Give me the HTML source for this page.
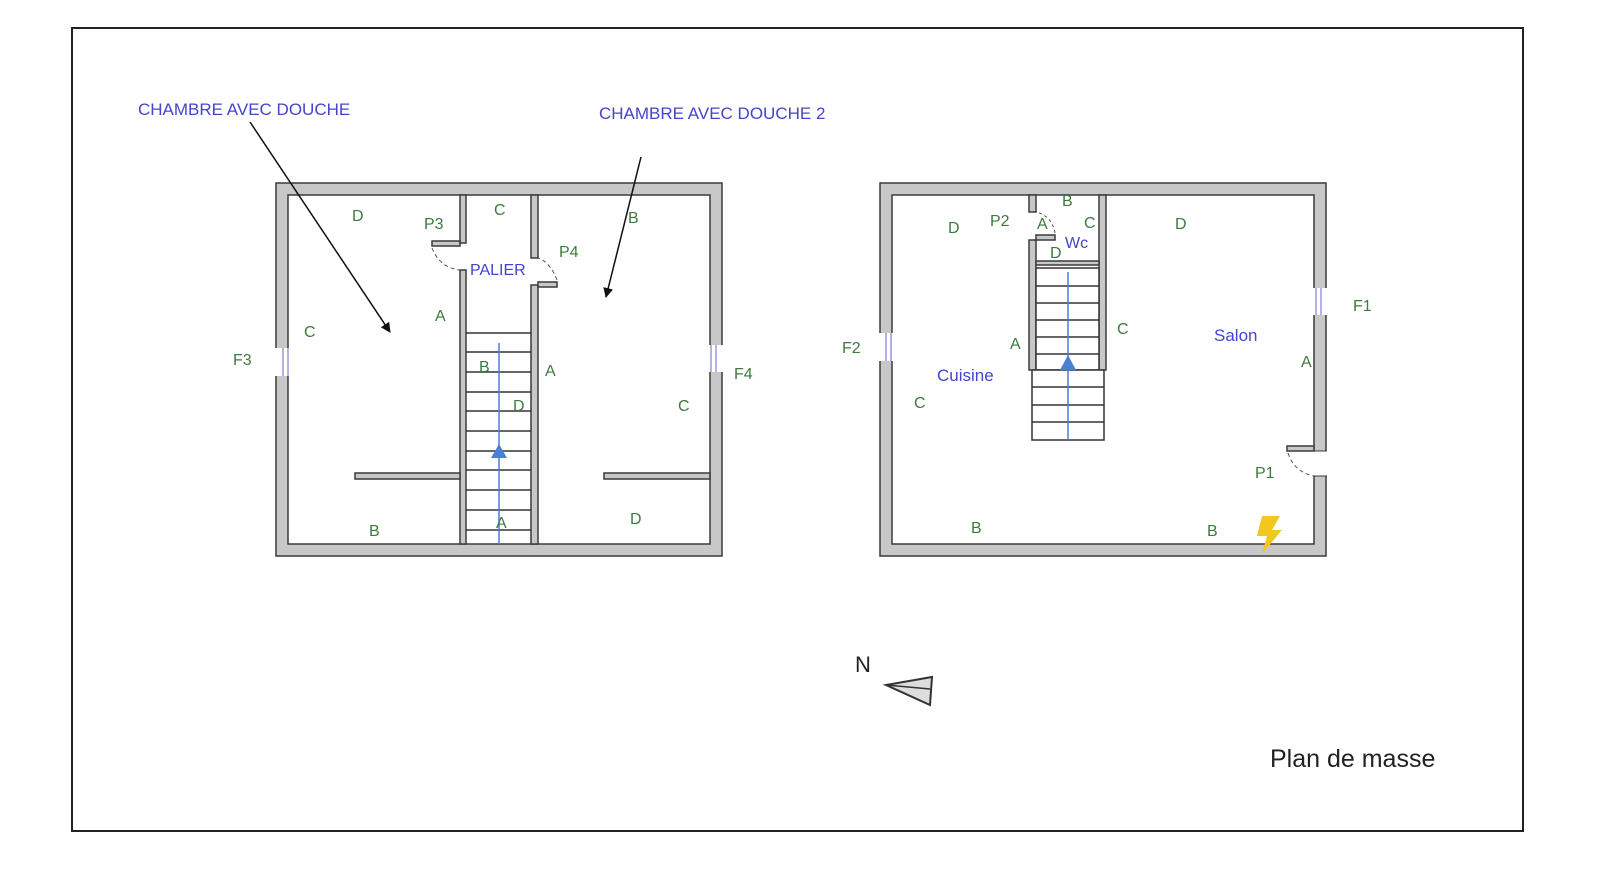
<!DOCTYPE html>
<html><head><meta charset="utf-8"><style>
html,body{margin:0;padding:0;background:#fff;overflow:hidden;width:1600px;height:874px;}
svg{display:block;width:1600px;height:874px;}
text{font-family:"Liberation Sans","DejaVu Sans",sans-serif;}
.g{fill:#3d7a3d;font-size:16px;}
.b{fill:#4444cc;font-size:17px;}
.w{fill:#c8c8c8;stroke:#3a3a3a;stroke-width:1.5;}
.st{stroke:#333;stroke-width:1.5;fill:#fff;}
</style></head><body>
<svg width="1600" height="874" viewBox="0 0 1600 874" xmlns="http://www.w3.org/2000/svg">
<rect x="72" y="28" width="1451" height="803" fill="#fff" stroke="#222" stroke-width="2"/>
<defs><marker id="ah" markerWidth="10" markerHeight="10" refX="9" refY="5" orient="auto" markerUnits="userSpaceOnUse"><path d="M0,0 L10,5 L0,10 z" fill="#111"/></marker></defs>

<path class="w" fill-rule="evenodd" d="M276,183 H722 V556 H276 Z M288,195 V544 H710 V195 Z"/>
<rect class="w" x="460" y="195" width="6" height="48"/>
<rect class="w" x="460" y="270" width="6" height="274"/>
<rect class="w" x="432" y="241" width="28" height="5"/>
<rect class="w" x="531" y="195" width="7" height="63"/>
<rect class="w" x="531" y="285" width="7" height="259"/>
<rect class="w" x="538" y="282" width="19" height="5"/>
<rect class="w" x="355" y="473" width="105" height="6"/>
<rect class="w" x="604" y="473" width="106" height="6"/>
<path d="M432,248 Q440,268 460,270" fill="none" stroke="#555" stroke-dasharray="4,3"/>
<path d="M557,280 Q550,262 538,258" fill="none" stroke="#555" stroke-dasharray="4,3"/>
<rect x="275" y="348" width="14" height="28" fill="#fff"/>
<line x1="283" y1="348" x2="283" y2="376" stroke="#6666cc"/><line x1="288" y1="348" x2="288" y2="376" stroke="#6666cc"/>
<rect x="709" y="345" width="14" height="27" fill="#fff"/>
<line x1="711" y1="345" x2="711" y2="372" stroke="#6666cc"/><line x1="716" y1="345" x2="716" y2="372" stroke="#6666cc"/>
<g stroke="#333" stroke-width="1.5">
<line x1="466" y1="333" x2="531" y2="333"/><line x1="466" y1="352" x2="531" y2="352"/><line x1="466" y1="372" x2="531" y2="372"/><line x1="466" y1="392" x2="531" y2="392"/><line x1="466" y1="411" x2="531" y2="411"/><line x1="466" y1="431" x2="531" y2="431"/><line x1="466" y1="451" x2="531" y2="451"/><line x1="466" y1="470" x2="531" y2="470"/><line x1="466" y1="490" x2="531" y2="490"/><line x1="466" y1="510" x2="531" y2="510"/><line x1="466" y1="530" x2="531" y2="530"/>
</g>
<line x1="499" y1="343" x2="499" y2="544" stroke="#4a7fd6" stroke-width="1.5"/>
<path d="M491,458 L499,444 L507,458 Z" fill="#4a7fd6"/>
<text class="g" x="352" y="221">D</text><text class="g" x="424" y="229">P3</text><text class="g" x="494" y="215">C</text>
<text class="g" x="628" y="223">B</text><text class="g" x="559" y="257">P4</text>
<text class="b" x="470" y="275" style="font-size:16px">PALIER</text>
<text class="g" x="435" y="321">A</text><text class="g" x="304" y="337">C</text><text class="g" x="233" y="365">F3</text>
<text class="g" x="479" y="372">B</text><text class="g" x="545" y="376">A</text><text class="g" x="513" y="411">D</text>
<text class="g" x="678" y="411">C</text><text class="g" x="734" y="379">F4</text>
<text class="g" x="496" y="528">A</text><text class="g" x="369" y="536">B</text><text class="g" x="630" y="524">D</text>
<line x1="250" y1="122" x2="390" y2="332" stroke="#111" stroke-width="1.5" marker-end="url(#ah)"/>
<line x1="641" y1="157" x2="606" y2="297" stroke="#111" stroke-width="1.5" marker-end="url(#ah)"/>
<text class="b" x="138" y="115">CHAMBRE AVEC DOUCHE</text>
<text class="b" x="599" y="119">CHAMBRE AVEC DOUCHE 2</text>

<path class="w" fill-rule="evenodd" d="M880,183 H1326 V556 H880 Z M892,195 V544 H1314 V195 Z"/>
<rect class="w" x="1029" y="195" width="7" height="17"/>
<rect class="w" x="1029" y="240" width="7" height="130"/>
<rect class="w" x="1036" y="235" width="19" height="5"/>
<rect class="w" x="1099" y="195" width="7" height="175"/>
<rect class="w" x="1036" y="261" width="63" height="4"/>
<path d="M1055,233 Q1052,216 1036,212" fill="none" stroke="#555" stroke-dasharray="3,3"/>
<rect class="st" x="1036" y="268" width="63" height="102"/>
<g stroke="#333" stroke-width="1.5">
<line x1="1036" y1="286" x2="1099" y2="286"/><line x1="1036" y1="303" x2="1099" y2="303"/><line x1="1036" y1="320" x2="1099" y2="320"/><line x1="1036" y1="337" x2="1099" y2="337"/><line x1="1036" y1="354" x2="1099" y2="354"/>
</g>
<rect class="st" x="1032" y="370" width="72" height="70"/>
<g stroke="#333" stroke-width="1.5">
<line x1="1032" y1="387" x2="1104" y2="387"/><line x1="1032" y1="405" x2="1104" y2="405"/><line x1="1032" y1="422" x2="1104" y2="422"/>
</g>
<line x1="1068" y1="272" x2="1068" y2="440" stroke="#4a7fd6" stroke-width="1.5"/>
<path d="M1060,370 L1068,355 L1076,370 Z" fill="#4a7fd6"/>
<rect x="879" y="333" width="14" height="28" fill="#fff"/>
<line x1="886" y1="333" x2="886" y2="361" stroke="#6666cc"/><line x1="891" y1="333" x2="891" y2="361" stroke="#6666cc"/>
<rect x="1313" y="288" width="14" height="27" fill="#fff"/>
<line x1="1316" y1="288" x2="1316" y2="315" stroke="#6666cc"/><line x1="1321" y1="288" x2="1321" y2="315" stroke="#6666cc"/>
<rect x="1313" y="451" width="14" height="25" fill="#fff"/>
<path d="M1313,451 H1327" stroke="#3a3a3a" fill="none"/>
<path d="M1313,476 H1327" stroke="#3a3a3a" fill="none"/>
<rect class="w" x="1287" y="446" width="27" height="5"/>
<path d="M1288,453 Q1294,472 1314,476" fill="none" stroke="#555" stroke-dasharray="4,3"/>
<path d="M1262,516 L1280,516 L1272,530 L1282,530 L1262,554 L1267,536 L1257,536 Z" fill="#f2c81e"/>
<text class="g" x="1062" y="206">B</text><text class="g" x="990" y="226">P2</text><text class="g" x="948" y="233">D</text>
<text class="g" x="1037" y="229">A</text><text class="g" x="1084" y="228">C</text><text class="g" x="1175" y="229">D</text>
<text class="b" x="1065" y="248" style="font-size:16px">Wc</text><text class="g" x="1050" y="258">D</text>
<text class="g" x="1353" y="311">F1</text><text class="g" x="1117" y="334">C</text><text class="b" x="1214" y="341">Salon</text>
<text class="g" x="842" y="353">F2</text><text class="g" x="1010" y="349">A</text><text class="g" x="1301" y="367">A</text>
<text class="b" x="937" y="381">Cuisine</text><text class="g" x="914" y="408">C</text>
<text class="g" x="1255" y="478">P1</text><text class="g" x="971" y="533">B</text><text class="g" x="1207" y="536">B</text>

<text x="855" y="672" style="font-size:22px;fill:#222">N</text>
<path d="M886,685 L932,677 L930,705 Z" fill="#ddd" stroke="#333" stroke-width="2"/>
<line x1="886" y1="685" x2="930" y2="689" stroke="#333" stroke-width="1.5"/>
<text x="1270" y="767" style="font-size:25px;fill:#222">Plan de masse</text>
</svg>
</body></html>
